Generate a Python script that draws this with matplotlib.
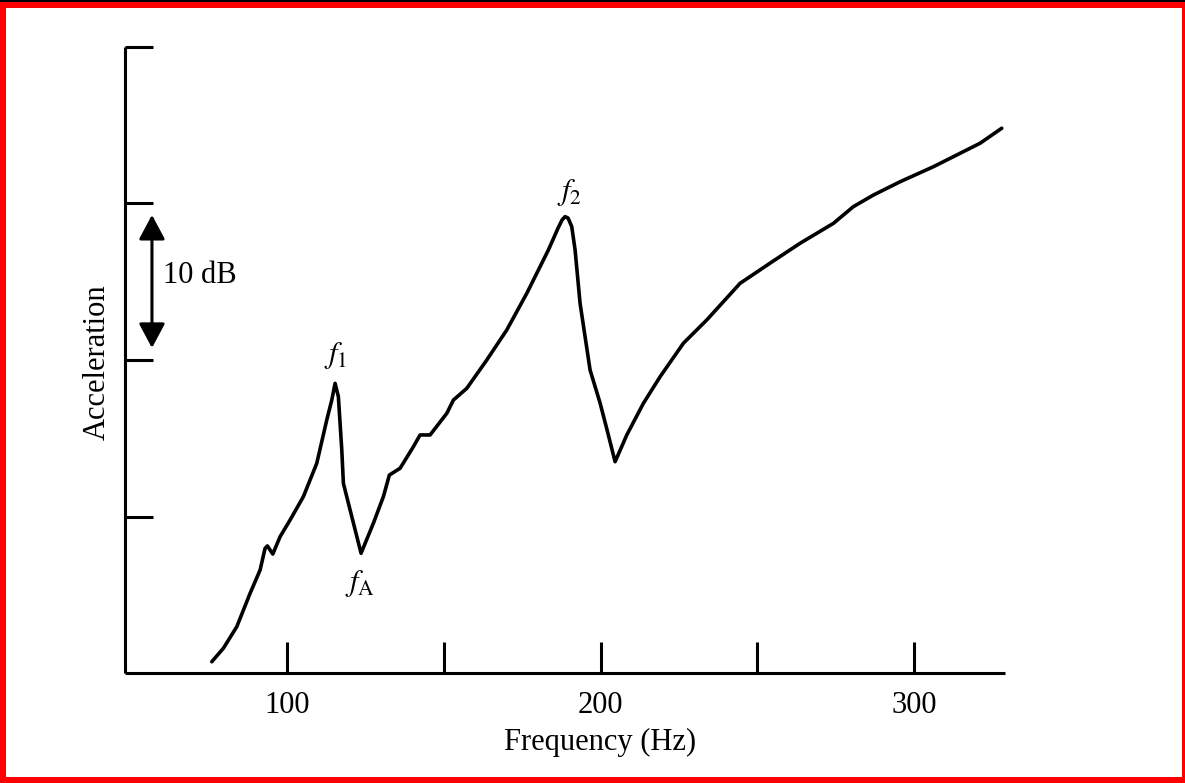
import matplotlib
matplotlib.use("Agg")
import matplotlib.pyplot as plt
from matplotlib.patches import Rectangle

# ---- data ----
freq_hz = [75.98, 79.68, 83.96, 88.20, 91.39, 92.98, 93.72, 95.44, 97.77, 100.96,
           105.20, 109.47, 112.66, 114.26, 115.31, 116.36, 117.45, 117.96, 120.10, 123.60,
           127.53, 130.72, 132.63, 136.04, 140.29, 142.42, 145.61, 150.94, 153.05, 157.32,
           163.70, 170.08, 176.46, 183.35, 186.44, 187.72, 188.68, 189.63, 190.81, 191.87,
           193.46, 196.65, 199.84, 202.07, 204.63, 208.36, 213.65, 218.98, 226.41, 233.88,
           244.50, 255.12, 263.64, 274.26, 280.64, 287.02, 295.53, 306.16, 321.05, 327.97]
accel_db = [0.72, 1.58, 2.96, 5.09, 6.58, 7.97, 8.12, 7.60, 8.71, 9.78,
            11.27, 13.40, 16.17, 17.44, 18.51, 17.66, 14.25, 12.12, 10.42, 7.65,
            9.57, 11.27, 12.65, 13.08, 14.46, 15.21, 15.21, 16.59, 17.44, 18.19,
            20.00, 21.92, 24.26, 27.03, 28.43, 28.95, 29.16, 29.07, 28.52, 27.03,
            23.62, 19.36, 17.25, 15.53, 13.50, 15.21, 17.23, 18.93, 21.07, 22.56,
            24.90, 26.33, 27.46, 28.73, 29.80, 30.54, 31.39, 32.35, 33.85, 34.81]
x_ticks = [100, 150, 200, 250, 300]
x_tick_labels = ["100", "", "200", "", "300"]
y_ticks = [10, 20, 30, 40]
peak_labels = [r"$f_1$", r"$f_\mathrm{A}$", r"$f_2$"]
peak_x = [115.6, 123.3, 190.0]
peak_y = [20.3, 5.75, 30.7]
scale_bar_db = [20.77, 29.27]

plt.rcParams["font.family"] = ["Liberation Serif", "DejaVu Serif"]
plt.rcParams["mathtext.fontset"] = "stix"

FS = 22
W, H = 1185, 783
fig = plt.figure(figsize=(W / 100, H / 100), dpi=100)
fig.patch.set_facecolor("white")

ax = fig.add_axes([125 / W, 1 - 673 / H, 880 / W, 626 / H])
ax.plot(freq_hz, accel_db, color="black", lw=2.6, solid_joinstyle="round",
        solid_capstyle="round")

ax.set_xlim(48.3, 329.0)
ax.set_ylim(0, 40)
for s in ["top", "right"]:
    ax.spines[s].set_visible(False)
for s in ["left", "bottom"]:
    ax.spines[s].set_linewidth(2.2)
    ax.spines[s].set_capstyle("butt")

ax.set_xticks(x_ticks)
ax.set_xticklabels(x_tick_labels)
ax.set_yticks(y_ticks)
ax.set_yticklabels([])
ax.tick_params(axis="x", direction="in", length=22, width=2.2, pad=13,
               labelsize=FS, colors="black")
ax.tick_params(axis="y", direction="in", length=20, width=2.2)

ax.set_xlabel("Frequency (Hz)", fontsize=FS)
ax.xaxis.set_label_coords(0.54, -0.087)
ax.set_ylabel("Acceleration", fontsize=FS)
ax.yaxis.set_label_coords(-0.015, 0.497)

# 10 dB scale arrow
ax.annotate("", xy=(56.9, scale_bar_db[1]), xytext=(56.9, scale_bar_db[0]),
            arrowprops=dict(arrowstyle="<|-|>,head_length=0.75,head_width=0.4",
                            mutation_scale=20, color="black", lw=2.2,
                            shrinkA=0, shrinkB=0))
ax.text(60.4, 25.43, "10 dB", fontsize=FS, ha="left", va="center")

for lab, px, py in zip(peak_labels, peak_x, peak_y):
    ax.text(px, py, lab, fontsize=FS, ha="center", va="center")

# red frame
red = "#ff0000"
fig.add_artist(Rectangle((0, 0), 6 / W, 1, transform=fig.transFigure,
                         color=red, lw=0))
fig.add_artist(Rectangle((1 - 3 / W, 0), 3 / W, 1, transform=fig.transFigure,
                         color=red, lw=0))
fig.add_artist(Rectangle((0, 0), 1, 6 / H, transform=fig.transFigure,
                         color=red, lw=0))
fig.add_artist(Rectangle((0, 1 - 8 / H), 1, 8 / H, transform=fig.transFigure,
                         color=red, lw=0))
fig.add_artist(Rectangle((0, 1 - 2 / H), 1, 2 / H, transform=fig.transFigure,
                         color="black", lw=0))

fig.savefig("out.png", dpi=100)
